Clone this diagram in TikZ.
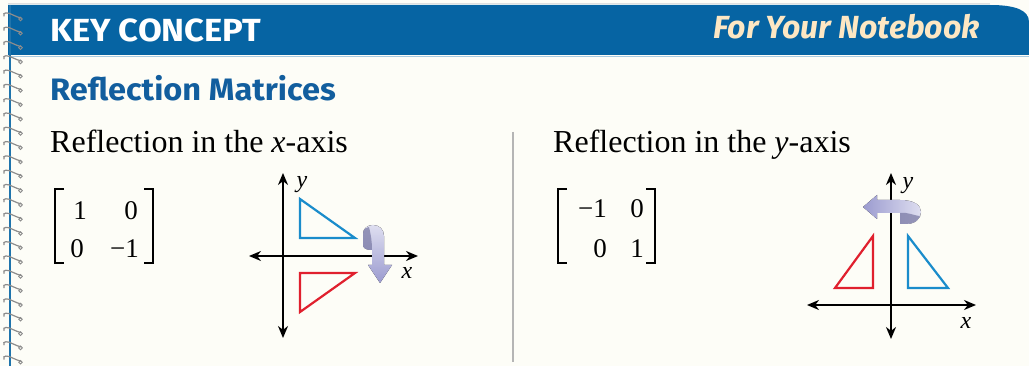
\documentclass[tikz,border=0pt]{standalone}
\usepackage{fontspec}
\setmainfont{Liberation Serif}
\newfontfamily\headfont{Fira Sans}
\usetikzlibrary{arrows.meta}
\definecolor{hdrblue}{HTML}{0664A3}
\definecolor{ttlblue}{HTML}{125E9E}
\definecolor{cream}{HTML}{FDFDF7}
\definecolor{nbtext}{HTML}{FDE7C3}
\definecolor{triblue}{HTML}{1A8CCB}
\definecolor{trired}{HTML}{E0202E}
\definecolor{apurple}{HTML}{9B9BCF}
\definecolor{alight}{HTML}{DEDEF0}
\definecolor{ringgray}{HTML}{8C8C8C}
\definecolor{divgray}{HTML}{B5B5B5}
\begin{document}
\begin{tikzpicture}[x=1pt,y=-1pt,
  axisline/.style={line width=2pt,{Stealth[length=12pt,width=10pt]}-{Stealth[length=12pt,width=10pt]}},
  tri/.style={line width=2.2pt,line join=miter},
  bracketline/.style={line width=1.8pt},
  body/.style={inner sep=0pt,font=\fontsize{32}{32}\selectfont},
  entry/.style={inner sep=0pt,font=\fontsize{27}{27}\selectfont},
  axlabel/.style={inner sep=0pt,font=\fontsize{24}{24}\selectfont\itshape},
  ribbonback/.style={fill=apurple!80!black,draw=none,opacity=0.75}]
\useasboundingbox (0,0) rectangle (1029,366);
\fill[cream] (0,0) rectangle (1029,366);
% header band
\draw[gray!25,line width=1pt] (8,4) -- (990,4);
\fill[hdrblue] (8,5) -- (990,5) .. controls (1015,5) and (1029,10) .. (1029,22) -- (1029,55) -- (8,55) -- cycle;
\draw[hdrblue!35,line width=1.5pt] (8,56.5) -- (1029,56.5);
\draw[hdrblue!90!white,line width=2pt] (10,5) -- (10,366);
% spiral rings
\foreach \i in {0,...,24}{
  \pgfmathsetmacro{\yy}{15+14.3*\i}
  \draw[ringgray,line width=1.2pt,line cap=round] (4,\yy+1) .. controls (2,\yy-3) and (8,\yy-3) .. (13,\yy) .. controls (16,\yy+2) and (19,\yy+2) .. (21,\yy+3);
  \draw[ringgray,line width=0.9pt] (20.5,\yy+4) circle [radius=1.8];
}
% titles
\node[anchor=base west,inner sep=0pt,text=white,font=\headfont\bfseries\fontsize{32}{32}\selectfont] (kc) at (50,42) {\scalebox{1.08}[1]{KEY CONCEPT}};
\node[anchor=base east,inner sep=0pt,text=nbtext,font=\headfont\bfseries\itshape\fontsize{32}{32}\selectfont] (nb) at (980,39) {For Your Notebook};
\node[anchor=base west,inner sep=0pt,text=ttlblue,font=\headfont\bfseries\fontsize{31}{31}\selectfont] (rm) at (50,101) {\scalebox{1.05}[1]{Reflection Matrices}};
\node[anchor=base west,body] (t1) at (50,153) {Reflection in the \textit{x}-axis};
\node[anchor=base west,body] (t2) at (553,153) {Reflection in the \textit{y}-axis};
% divider
\coordinate (dtop) at (513,132);
\coordinate (dbot) at (513,362);
\draw[divgray,line width=1.5pt] (dtop) -- (dbot);
% matrix 1
\draw[bracketline] (64,189) -- (55,189) -- (55,263) -- (64,263);
\draw[bracketline] (144,189) -- (153,189) -- (153,263) -- (144,263);
\node[entry,anchor=base] (a11) at (80,220) {1};
\node[entry,anchor=base east] (a12) at (138,220) {0};
\node[entry,anchor=base] (a21) at (77,258) {0};
\node[entry,anchor=base east] (a22) at (139,258) {−1};
% matrix 2
\draw[bracketline] (567,189) -- (558,189) -- (558,263) -- (567,263);
\draw[bracketline] (646,189) -- (655,189) -- (655,263) -- (646,263);
\node[entry,anchor=base east] (b11) at (607,218) {−1};
\node[entry,anchor=base] (b12) at (637,218) {0};
\node[entry,anchor=base east] (b21) at (607,258) {0};
\node[entry,anchor=base] (b22) at (637,258) {1};
% graph 1
\coordinate (g1yt) at (283,173);
\coordinate (g1yb) at (283,338);
\coordinate (g1xl) at (249,256);
\coordinate (g1xr) at (418,256);
\draw[axisline] (g1yb) -- (g1yt);
\draw[axisline] (g1xl) -- (g1xr);
\node[axlabel] (g1y) at (302,185) {y};
\node[axlabel] (g1x) at (407,273) {x};
\draw[tri,triblue] (300,199) -- (300,238) -- (355,238) -- cycle;
\draw[tri,trired] (300,312) -- (300,273) -- (355,273) -- cycle;
% curved arrow 1
\fill[top color=alight,bottom color=apurple] (363,234) .. controls (363,228) and (368,225) .. (373,225) .. controls (379,225) and (384,229) .. (384,236) -- (384,265) -- (392,265) -- (380,283) -- (368,265) -- (372,265) -- (372,250) .. controls (368,250) and (364,249) .. (363,246) -- cycle;
\fill[ribbonback] (363,234) .. controls (363,229) and (366,227) .. (369,227) .. controls (371,235) and (372,242) .. (372,250) .. controls (368,250) and (364,249) .. (363,246) -- cycle;
% graph 2
\coordinate (g2yt) at (891,173);
\coordinate (g2yb) at (891,339);
\coordinate (g2xl) at (807,305);
\coordinate (g2xr) at (976,305);
\draw[axisline] (g2yb) -- (g2yt);
\draw[axisline] (g2xl) -- (g2xr);
\node[axlabel] (g2y) at (908,186) {y};
\node[axlabel] (g2x) at (966,323) {x};
\draw[tri,trired] (873,236) -- (873,288) -- (835,288) -- cycle;
\draw[tri,triblue] (908,236) -- (908,288) -- (948,288) -- cycle;
% curved arrow 2
\fill[left color=apurple,right color=alight] (863,207) -- (877,195) -- (877,200) -- (900,200) .. controls (914,200) and (921,205) .. (921,212) .. controls (921,219) and (915,224) .. (906,224) -- (900,224) -- (900,213) -- (877,213) -- (877,219) -- cycle;
\fill[ribbonback] (900,213) -- (906,213) .. controls (912,214) and (917,216) .. (920,216) .. controls (918,221) and (913,224) .. (906,224) -- (900,224) -- cycle;
\end{tikzpicture}
\end{document}
